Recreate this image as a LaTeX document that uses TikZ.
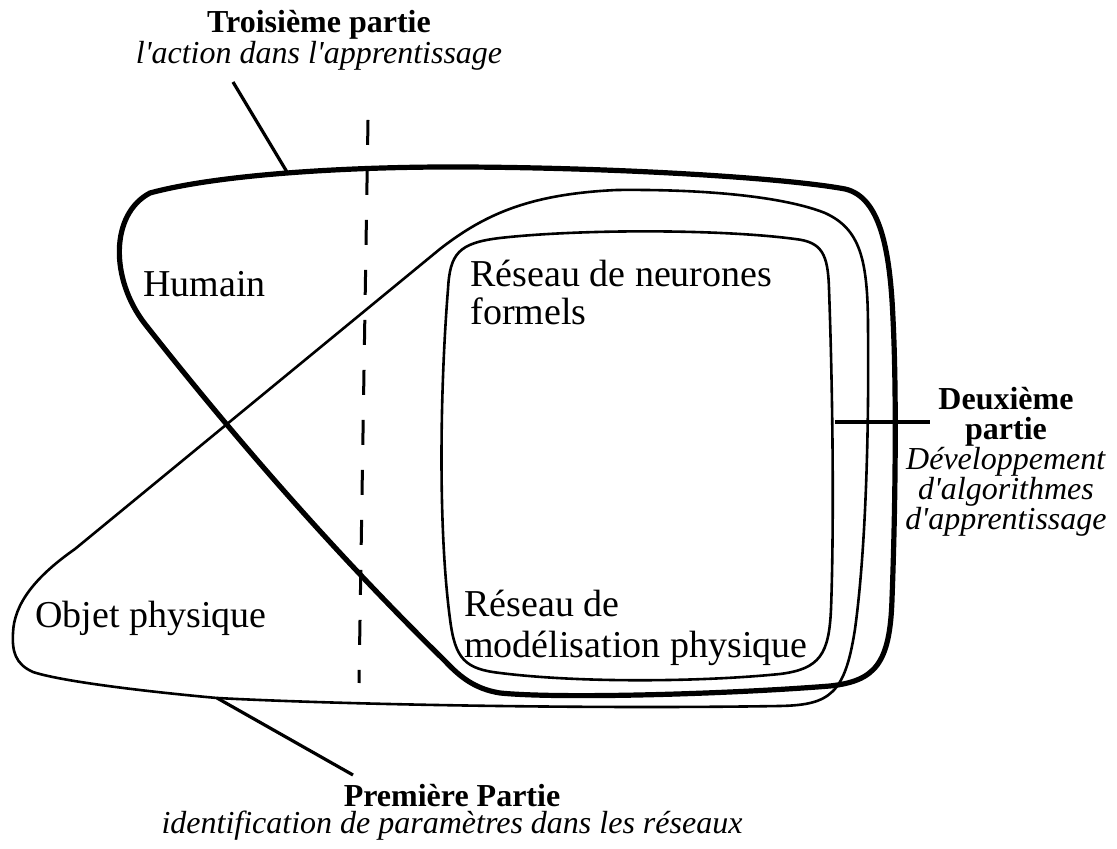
\documentclass[tikz,border=0pt]{standalone}
\usepackage{fontspec}
\setmainfont{Liberation Serif}
\usepackage{tikz}
\usetikzlibrary{positioning}
\newcommand{\apos}{\textquotesingle}

\begin{document}
\begin{tikzpicture}[x=50pt, y=50pt,
    thickline/.style={line width=2.6pt, line join=round},
    thinline/.style={line width=1.3pt, line join=round},
    connector/.style={line width=1.6pt},
    dashline/.style={line width=1.5pt, dash pattern=on 12.5pt off 12.5pt},
    region/.style={font=\fontsize{19}{19}\selectfont, inner sep=0pt},
    partlabel/.style={font=\fontsize{16}{13.5}\selectfont, inner sep=0pt, align=center, anchor=base}]
    \useasboundingbox (0,0) rectangle (11.17,8.49);

    % Troisieme partie : contour epais (humain + reseaux)
    \draw[thickline] (1.50,6.56) .. controls (2.20,6.75) and (3.50,6.82) .. (4.50,6.82)
        .. controls (6.00,6.82) and (7.80,6.72) .. (8.45,6.60)
        .. controls (8.80,6.52) and (8.90,6.00) .. (8.93,5.30)
        .. controls (8.97,4.50) and (8.95,3.30) .. (8.92,2.50)
        .. controls (8.90,1.85) and (8.75,1.68) .. (8.30,1.63)
        .. controls (7.30,1.55) and (5.60,1.50) .. (5.00,1.56)
        .. controls (4.75,1.60) and (4.60,1.72) .. (4.45,1.88)
        .. controls (3.45,2.86) and (2.45,3.98) .. (1.45,5.25)
        .. controls (1.10,5.70) and (1.10,6.35) .. cycle;

    % Premiere partie : contour fin (objet + reseaux)
    \draw[thinline] (0.13,2.16) .. controls (0.14,2.45) and (0.35,2.72) .. (0.75,3.00)
        -- (4.40,6.00)
        .. controls (4.85,6.35) and (5.30,6.55) .. (6.17,6.59)
        .. controls (7.20,6.60) and (7.90,6.50) .. (8.25,6.36)
        .. controls (8.60,6.20) and (8.68,5.90) .. (8.68,5.20)
        .. controls (8.69,4.20) and (8.66,3.00) .. (8.55,2.20)
        .. controls (8.45,1.55) and (8.30,1.44) .. (7.80,1.43)
        .. controls (6.00,1.40) and (3.50,1.44) .. (2.17,1.51)
        .. controls (1.40,1.58) and (0.60,1.68) .. (0.33,1.77)
        .. controls (0.15,1.85) and (0.12,1.98) .. cycle;

    % Deuxieme partie : les reseaux
    \draw[thinline] (4.48,5.60) .. controls (4.50,5.95) and (4.58,6.06) .. (5.00,6.11)
        .. controls (5.80,6.20) and (7.20,6.20) .. (7.95,6.10)
        .. controls (8.22,6.07) and (8.28,5.95) .. (8.29,5.60)
        .. controls (8.33,4.50) and (8.34,3.20) .. (8.31,2.40)
        .. controls (8.29,1.95) and (8.20,1.80) .. (7.80,1.75)
        .. controls (7.00,1.67) and (5.80,1.66) .. (5.00,1.76)
        .. controls (4.65,1.80) and (4.55,1.90) .. (4.50,2.30)
        .. controls (4.38,3.20) and (4.40,4.60) .. cycle;

    % separation
    \coordinate (dtop) at (3.68,7.29);
    \coordinate (dbot) at (3.59,1.66);
    \draw[dashline] (dtop) -- (dbot);

    % textes des zones
    \node[region, anchor=base west] (humain) at (1.43,5.52) {Humain};
    \node[region, anchor=base west] (objet) at (0.35,2.21) {Objet physique};
    \node[region, anchor=base west, align=left] (neurones) at (4.70,5.24)
        {Réseau de neurones\\formels};
    \node[region, anchor=base west, align=left] (modelis) at (4.64,1.91)
        {Réseau de\\[1.5pt]modélisation physique};

    % titres des parties
    \node[partlabel, font=\fontsize{16}{13.2}\selectfont] (troisieme) at (3.19,7.85)
        {\textbf{Troisième partie}\\\textit{l\apos action dans l\apos apprentissage}};
    \node[partlabel, font=\fontsize{16}{15}\selectfont] (deuxieme) at (10.06,3.19)
        {\textbf{Deuxième}\\\textbf{partie}\\\textit{Développement}\\\textit{d\apos algorithmes}\\\textit{d\apos apprentissage}};
    \node[partlabel] (premiere) at (4.52,0.15)
        {\textbf{Première Partie}\\\textit{identification de paramètres dans les réseaux}};

    % traits de rappel
    \coordinate (t3foot) at (2.33,7.67);
    \coordinate (t3touch) at (2.87,6.77);
    \draw[connector] (t3foot) -- (t3touch);
    \coordinate (d2start) at (8.35,4.27);
    \coordinate (d2end) at (9.30,4.27);
    \draw[connector] (d2start) -- (d2end);
    \coordinate (p1touch) at (2.17,1.51);
    \coordinate (p1foot) at (3.53,0.74);
    \draw[connector] (p1touch) -- (p1foot);
\end{tikzpicture}
\end{document}
